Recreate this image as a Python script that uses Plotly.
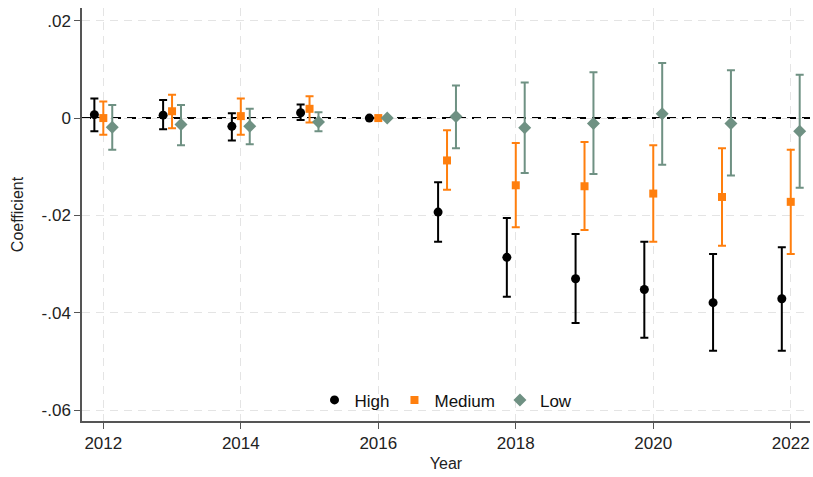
import plotly.graph_objects as go

# Event-study coefficients by group, with 95% CI bounds
years = [2012, 2013, 2014, 2015, 2016, 2017, 2018, 2019, 2020, 2021, 2022]

high_coef = [0.0007, 0.0006, -0.0017, 0.0011, 0.0, -0.0193, -0.0286, -0.0330, -0.0352, -0.0379, -0.0371]
high_lo = [-0.0027, -0.0023, -0.0046, -0.0004, 0.0, -0.0254, -0.0367, -0.0421, -0.0451, -0.0478, -0.0478]
high_hi = [0.0040, 0.0037, 0.0010, 0.0028, 0.0, -0.0132, -0.0205, -0.0238, -0.0254, -0.0279, -0.0265]

med_coef = [0.0000, 0.0014, 0.0004, 0.0019, 0.0, -0.0087, -0.0138, -0.0140, -0.0155, -0.0162, -0.0172]
med_lo = [-0.0034, -0.0021, -0.0034, -0.0009, 0.0, -0.0147, -0.0224, -0.0230, -0.0254, -0.0262, -0.0279]
med_hi = [0.0034, 0.0048, 0.0040, 0.0045, 0.0, -0.0025, -0.0051, -0.0049, -0.0056, -0.0062, -0.0065]

low_coef = [-0.0019, -0.0013, -0.0017, -0.0008, 0.0, 0.0003, -0.0020, -0.0011, 0.0009, -0.0011, -0.0027]
low_lo = [-0.0065, -0.0056, -0.0054, -0.0027, 0.0, -0.0062, -0.0113, -0.0115, -0.0096, -0.0118, -0.0143]
low_hi = [0.0027, 0.0027, 0.0019, 0.0012, 0.0, 0.0067, 0.0073, 0.0094, 0.0113, 0.0098, 0.0089]

x_ticks = [2012, 2014, 2016, 2018, 2020, 2022]
y_ticks = [0.02, 0.0, -0.02, -0.04, -0.06]
y_tick_labels = [".02", "0", "-.02", "-.04", "-.06"]

series = [
    ("High", high_coef, high_lo, high_hi, -0.13, "#000000", "circle", 9),
    ("Medium", med_coef, med_lo, med_hi, 0.0, "#ff7f0e", "square", 8),
    ("Low", low_coef, low_lo, low_hi, 0.13, "#6f9183", "diamond", 10),
]

fig = go.Figure()
for name, coef, lo, hi, shift, color, symbol, size in series:
    fig.add_trace(go.Scatter(
        x=[y + shift for y in years],
        y=coef,
        mode="markers",
        name=name,
        marker=dict(color=color, symbol=symbol, size=size, line=dict(width=0)),
        error_y=dict(
            type="data",
            symmetric=False,
            array=[h - c for h, c in zip(hi, coef)],
            arrayminus=[c - l for c, l in zip(coef, lo)],
            color=color,
            thickness=2,
            width=4,
        ),
    ))

# Dashed reference line at zero
fig.add_shape(type="line", xref="paper", x0=0, x1=1, yref="y", y0=0, y1=0,
              line=dict(color="black", width=2, dash="9px,6px"), layer="below")

axis_font = dict(family="Liberation Sans, Arial, sans-serif", size=17, color="#222222")
title_font = dict(family="Liberation Sans, Arial, sans-serif", size=16, color="#222222")

fig.update_layout(
    width=813,
    height=477,
    margin=dict(l=82, r=3, t=8, b=56),
    paper_bgcolor="white",
    plot_bgcolor="white",
    font=dict(family="Liberation Sans, Arial, sans-serif", size=16, color="#222222"),
    showlegend=True,
    legend=dict(
        orientation="h",
        x=0.5, xanchor="center",
        y=0.05, yanchor="middle",
        bgcolor="rgba(0,0,0,0)",
        font=dict(size=17, color="#111111"),
        itemwidth=30,
    ),
    xaxis=dict(
        range=[2011.69, 2022.28],
        tickvals=x_ticks,
        ticktext=[str(t) for t in x_ticks],
        ticks="outside", ticklen=6, tickcolor="#555555", tickwidth=1,
        showline=True, linecolor="#555555", linewidth=1.5,
        showgrid=True, gridcolor="#e4e4e4", gridwidth=1.2, griddash="8px,6px",
        zeroline=False,
        tickfont=axis_font,
        title=dict(text="Year", font=title_font, standoff=6),
    ),
    yaxis=dict(
        range=[-0.0622, 0.0226],
        tickvals=y_ticks,
        ticktext=y_tick_labels,
        ticks="outside", ticklen=6, tickcolor="#555555", tickwidth=1,
        showline=True, linecolor="#555555", linewidth=1.5,
        showgrid=True, gridcolor="#e4e4e4", gridwidth=1.2, griddash="8px,6px",
        zeroline=False,
        tickfont=axis_font,
        title=dict(text="Coefficient", font=title_font, standoff=14),
    ),
)

fig.write_html("out.html")
